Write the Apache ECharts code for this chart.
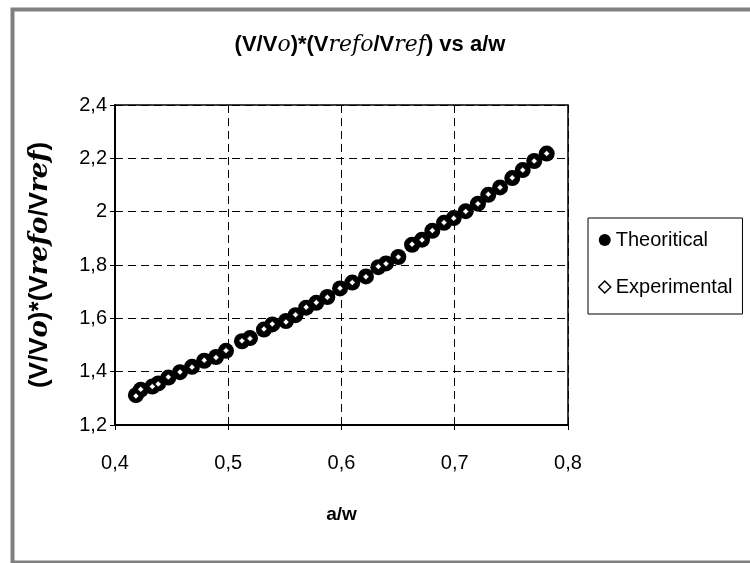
<!DOCTYPE html>
<html>
<head>
<meta charset="utf-8">
<script src="https://cdn.jsdelivr.net/npm/echarts@6/dist/echarts.min.js"></script>
<style>html,body{margin:0;padding:0;background:#fff;}#c{width:750px;height:563px;}</style>
</head>
<body>
<div id="c"></div>
<script>
var aw = [0.4185,0.4227,0.4329,0.4382,0.4471,0.4574,0.4680,0.4788,0.4892,0.4980,
          0.5121,0.5192,0.5315,0.5389,0.5510,0.5594,0.5688,0.5777,0.5875,0.5987,
          0.6095,0.6216,0.6325,0.6393,0.6502,0.6623,0.6711,0.6802,0.6905,0.6991,
          0.7097,0.7205,0.7296,0.7400,0.7508,0.7600,0.7702,0.7812];
var theoretical = [1.312,1.332,1.344,1.356,1.378,1.398,1.418,1.441,1.455,1.478,
                   1.514,1.526,1.558,1.577,1.590,1.612,1.640,1.658,1.680,1.712,
                   1.734,1.757,1.792,1.806,1.830,1.876,1.895,1.928,1.958,1.976,
                   2.002,2.030,2.063,2.091,2.126,2.156,2.190,2.218];
var experimental = [1.309,1.334,1.344,1.354,1.380,1.399,1.417,1.443,1.453,1.479,
                    1.516,1.524,1.560,1.579,1.586,1.613,1.642,1.659,1.679,1.713,
                    1.734,1.756,1.794,1.805,1.830,1.878,1.894,1.929,1.959,1.975,
                    2.001,2.030,2.065,2.091,2.127,2.156,2.190,2.218];
var xTicks = [0.4,0.5,0.6,0.7,0.8];
var yTicks = [1.2,1.4,1.6,1.8,2.0,2.2,2.4];

var FONT = "'Liberation Sans',Arial,sans-serif";
var IFONT = "'DejaVu Serif','Liberation Serif',serif";
function fmt(v){ return String(Math.round(v*10)/10).replace('.', ','); }
function pairs(xs, ys){ return xs.map(function(x,i){ return [x, ys[i]]; }); }

var chart = echarts.init(document.getElementById('c'));
chart.setOption({
  animation: false,
  backgroundColor: '#fff',
  graphic: [{
    type: 'rect', left: 10, top: 7,
    shape: { x: 0, y: 0, width: 770, height: 553 },
    style: { fill: 'none', stroke: '#808080', lineWidth: 4 }
  }],
  title: {
    text: '(V/V{i|o})*(V{i|refo}/V{i|ref}) vs a/w',
    left: 365, top: 29, textAlign: 'center',
    textStyle: {
      fontFamily: FONT, fontWeight: 'bold', fontSize: 22, color: '#000',
      rich: { i: { fontFamily: IFONT, fontStyle: 'italic', fontWeight: 'normal', fontSize: 22, color: '#000' } }
    }
  },
  legend: {
    orient: 'vertical', left: 588, top: 218,
    padding: [12, 10, 17, 10], itemGap: 27,
    borderColor: '#000', borderWidth: 1, backgroundColor: '#fff',
    itemWidth: 12, itemHeight: 12,
    textStyle: { fontFamily: FONT, fontSize: 20, color: '#000' },
    data: [
      { name: 'Theoritical', icon: 'circle', itemStyle: { color: '#000', opacity: 1 } },
      { name: 'Experimental', icon: 'diamond', itemStyle: { color: '#fff', borderColor: '#000', borderWidth: 1.5, opacity: 1 } }
    ]
  },
  grid: { left: 115, right: 182, top: 105, bottom: 138, show: true, borderColor: '#000', borderWidth: 1.5 },
  xAxis: {
    type: 'value', min: 0.4, max: 0.8, interval: 0.1,
    name: 'a/w', nameLocation: 'middle', nameGap: 80,
    nameTextStyle: { fontFamily: FONT, fontWeight: 'bold', fontSize: 19, color: '#000' },
    axisLine: { show: true, onZero: false, lineStyle: { color: '#000', width: 2 } },
    axisTick: { show: true, inside: false, length: 5, lineStyle: { color: '#000' } },
    axisLabel: { fontFamily: FONT, fontSize: 20, color: '#000', margin: 28, formatter: fmt },
    splitLine: { show: true, lineStyle: { color: '#000', type: [8, 5], width: 1 } }
  },
  yAxis: {
    type: 'value', min: 1.2, max: 2.4, interval: 0.2,
    name: '(V/V{i|o})*(V{i|refo}/V{i|ref})', nameLocation: 'middle', nameGap: 62, nameRotate: 90,
    nameTextStyle: {
      fontFamily: FONT, fontWeight: 'bold', fontSize: 26, color: '#000',
      rich: { i: { fontFamily: IFONT, fontStyle: 'italic', fontWeight: 'bold', fontSize: 26, color: '#000' } }
    },
    axisLine: { show: true, lineStyle: { color: '#000', width: 2 } },
    axisTick: { show: true, inside: false, length: 5, lineStyle: { color: '#000' } },
    axisLabel: { fontFamily: FONT, fontSize: 20, color: '#000', margin: 8, formatter: fmt },
    splitLine: { show: true, lineStyle: { color: '#000', type: [8, 5], width: 1 } }
  },
  series: [
    { name: 'Theoritical', type: 'scatter', symbol: 'circle', symbolSize: 16,
      itemStyle: { color: '#000', opacity: 1 }, data: pairs(aw, theoretical), z: 2 },
    { name: 'Experimental', type: 'scatter', symbol: 'diamond', symbolSize: 6,
      itemStyle: { color: '#fff', borderColor: '#000', borderWidth: 0.5, opacity: 1 }, data: pairs(aw, experimental), z: 3 }
  ]
});
</script>
</body>
</html>
